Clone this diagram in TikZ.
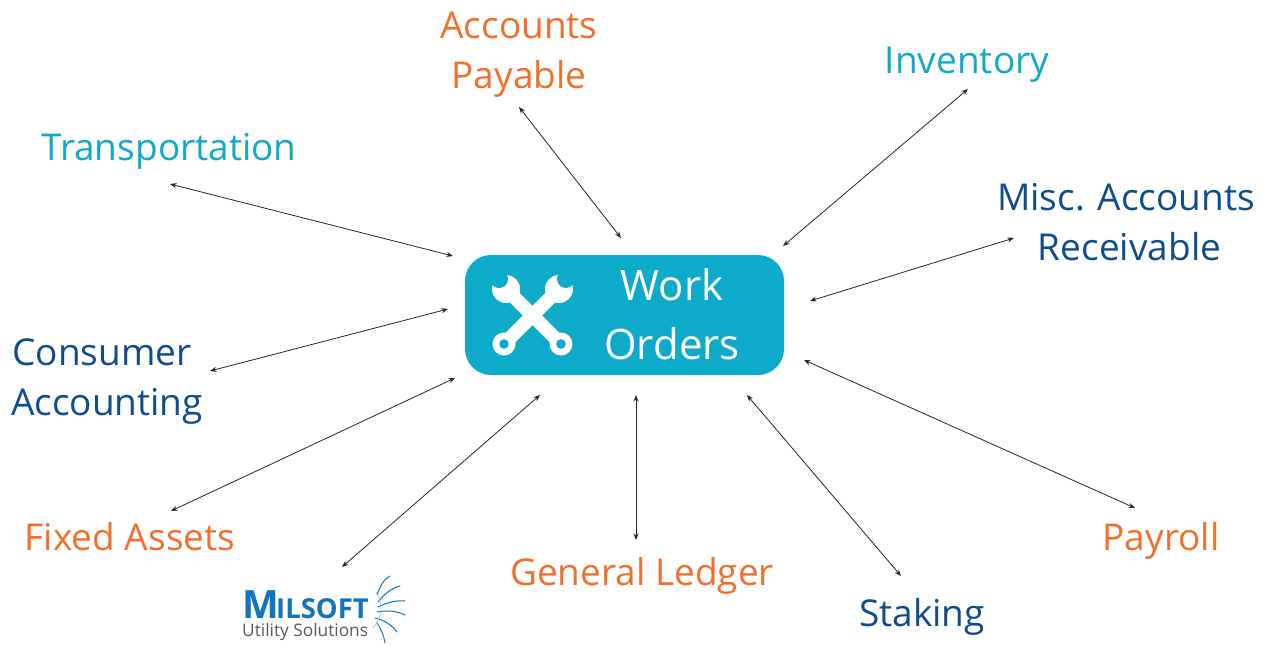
\documentclass[tikz,border=0pt]{standalone}
\usepackage{fontspec}
\setmainfont{Open Sans}
\usetikzlibrary{arrows.meta}
\definecolor{orangeT}{HTML}{F26F2B}
\definecolor{tealT}{HTML}{0EAAC9}
\definecolor{navyT}{HTML}{0F4C8C}
\definecolor{logoB}{HTML}{1274BC}
\definecolor{logoG}{HTML}{58595B}
\tikzset{
  label/.style={font=\fontsize{37}{50}\selectfont, align=center, inner sep=0pt, anchor=center},
  orangel/.style={label, text=orangeT},
  teall/.style={label, text=tealT},
  navyl/.style={label, text=navyT},
  link/.style={draw=black!85, line width=0.8pt, {Stealth[length=6.5pt,width=5pt]}-{Stealth[length=6.5pt,width=5pt]}},
  card/.style={fill=tealT, draw=none, rounded corners=26pt, minimum width=319pt, minimum height=120pt, inner sep=0pt},
  ray/.style={draw=logoB, line width=1pt, line cap=round}
}
\begin{document}
\begin{tikzpicture}[x=1pt,y=-1pt]
\useasboundingbox (0,0) rectangle (1263,645);
\node[card] (wo) at (624.5,315) {};
\node[label,text=white,font=\fontsize{42}{59}\selectfont] (wot) at (672,314) {Work\\Orders};
% wrench icon
\foreach \hx/\hy/\rx/\ry/\nx in {506/289/561/344/499, 559/289/504/344/566}{
  \draw[white,line width=13.5pt] (\hx,\hy) -- (\rx,\ry);
  \fill[white] (\hx,\hy) circle[radius=14pt];
  \fill[white] (\rx,\ry) circle[radius=11.5pt];
  \fill[tealT] (\rx,\ry) circle[radius=4.8pt];
  \fill[tealT] (\nx,279) circle[radius=9pt];
}
% labels
\node[orangel] (ap) at (519,55) {Accounts\\Payable};
\node[teall] (inv) at (967,65) {Inventory};
\node[teall] (tr) at (169,151) {Transportation};
\node[navyl] (ar) at (1126,222) {Misc. Accounts\\\hspace*{7pt}Receivable};
\node[navyl] (ca) at (107,382) {Consumer\kern 10pt\\Accounting};
\node[orangel] (fa) at (130,537) {Fixed Assets};
\node[orangel] (gl) at (642,576) {General Ledger};
\node[navyl] (st) at (922,617) {Staking};
\node[orangel] (pr) at (1161,541) {Payroll};
% logo
\node[inner sep=0pt,anchor=base west,text=logoB,font=\bfseries\fontsize{39}{39}\selectfont] (lm) at (242,618) {M};
\node[inner sep=0pt,anchor=base west,text=logoB,font=\bfseries\fontsize{27.5}{27.5}\selectfont] (ls) at (276,618) {ILSOFT};
\node[inner sep=0pt,anchor=base west,text=logoG,font=\fontsize{17.3}{17.3}\selectfont] (lu) at (242,636) {Utility Solutions};
\draw[ray] (377,595) .. controls (380,586) and (384,579) .. (390,576);
\draw[ray] (378,602) .. controls (384,594) and (392,588) .. (400,586);
\draw[ray] (378,607) .. controls (386,603) and (396,600) .. (405,601);
\draw[ray] (377,612) .. controls (387,610) and (397,611) .. (405,615);
\draw[ray] (375,618) .. controls (384,620) and (392,625) .. (397,632);
\draw[ray] (377,623) .. controls (381,629) and (384,636) .. (385,643);
\draw[ray,line width=0.6pt,draw=logoB!45] (376,592) .. controls (383,603) and (383,616) .. (373,628);
% free connector ends
\coordinate (ap1) at (519,107); \coordinate (ap2) at (621,238);
\coordinate (inv1) at (968,89); \coordinate (inv2) at (783,246);
\coordinate (tr1) at (170,184); \coordinate (tr2) at (453,256);
\coordinate (ar1) at (1014,238); \coordinate (ar2) at (810,301);
\coordinate (ca1) at (210,371); \coordinate (ca2) at (448,309);
\coordinate (fa1) at (171,511); \coordinate (fa2) at (455,378);
\coordinate (ml1) at (342,567); \coordinate (ml2) at (540,395);
\coordinate (gl1) at (636,540); \coordinate (gl2) at (636,395);
\coordinate (st1) at (901,576); \coordinate (st2) at (747,395);
\coordinate (pr1) at (1135,508); \coordinate (pr2) at (804,360);
\foreach \n in {ap,inv,tr,ar,ca,fa,ml,gl,st,pr}{\draw[link] (\n1) -- (\n2);}
\end{tikzpicture}
\end{document}
